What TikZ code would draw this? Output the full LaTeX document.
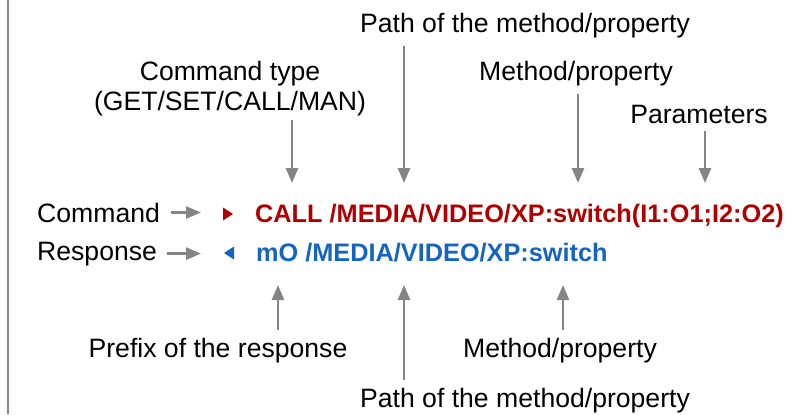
\documentclass[tikz,border=0pt]{standalone}
\usepackage{fontspec}
\setmainfont{Liberation Sans}
\usepackage{xcolor}
\usepackage{tikz}
\usetikzlibrary{arrows.meta,positioning}
\definecolor{cmdred}{HTML}{B00000}
\definecolor{respblue}{HTML}{1565C0}
\definecolor{ptrgray}{HTML}{858585}

\begin{document}
\begin{tikzpicture}[
        x=1bp, y=-1bp,
        every node/.style={font=\fontsize{26.6bp}{26.6bp}\selectfont},
        lbl/.style={anchor=base, inner sep=8bp, align=center},
        rowlbl/.style={anchor=base west, inner sep=0pt},
        ptr/.style={draw=ptrgray, line width=2.6bp, -{Triangle[width=12bp,length=15bp]}},
        cmdtxt/.style={anchor=base west, inner sep=0pt, text=cmdred,
                font=\fontsize{25.3bp}{25.3bp}\selectfont\bfseries},
        resptxt/.style={cmdtxt, text=respblue},
        edge/.style={draw=ptrgray, line width=2bp}
    ]
    \useasboundingbox (0,0) rectangle (810,414);
    \draw[edge] (8,0) -- (8,414);

    % ================= the two lines =========================
    \node[rowlbl] (cmdlbl) at (37,222) {Command};
    \node[rowlbl] (resplbl) at (37,260) {Response};
    \node[cmdtxt] (cmdline) at (255,222) {CALL /MEDIA/VIDEO/XP:switch(I1:O1;I2:O2)};
    \node[resptxt] (respline) at (256,261) {mO /MEDIA/VIDEO/XP:switch};

    \coordinate (cmdmark) at (223,214);
    \coordinate (respmark) at (234,253);
    \fill[cmdred] (cmdmark) -- ++(0,-6.5) -- ++(10,6.5) -- ++(-10,6.5) -- cycle;
    \fill[respblue] (respmark) -- ++(0,-6.5) -- ++(-10,6.5) -- ++(10,6.5) -- cycle;

    \coordinate (rowtip) at (201,0);
    \draw[ptr] ([xshift=11bp]cmdlbl.east) -- (cmdlbl.east -| rowtip);
    \draw[ptr] ([xshift=10bp]resplbl.east) -- (resplbl.east -| rowtip);

    % ================= labels above =========================
    \node[lbl] (pathtop) at (525,32) {Path of the method/property};
    \node[lbl, inner sep=4bp] (typelbl) at (230,110) {Command type\\[3bp](GET/SET/CALL/MAN)};
    \node[lbl] (methtop) at (576,80) {Method/property};
    \node[lbl] (paramlbl) at (699,123) {Parameters};

    \coordinate (pathtip) at (404,183);
    \coordinate (typetip) at (292,183);
    \coordinate (methtip) at (578,183);
    \coordinate (paramtip) at (705,183);
    \draw[ptr] (pathtop.south -| pathtip) -- (pathtip);
    \draw[ptr] (typelbl.south -| typetip) -- (typetip);
    \draw[ptr] (methtop.south -| methtip) -- (methtip);
    \draw[ptr] (paramlbl.south -| paramtip) -- (paramtip);

    % ================= labels below =========================
    \node[lbl] (prefixlbl) at (218,357) {Prefix of the response};
    \node[lbl] (methbot) at (560,357) {Method/property};
    \node[lbl] (pathbot) at (525,407) {Path of the method/property};

    \coordinate (prefixtip) at (278,285);
    \coordinate (pathbtip) at (404,285);
    \coordinate (methbtip) at (563,285);
    \draw[ptr] (prefixlbl.north -| prefixtip) -- (prefixtip);
    \draw[ptr] (pathbot.north -| pathbtip) -- (pathbtip);
    \draw[ptr] (methbot.north -| methbtip) -- (methbtip);
\end{tikzpicture}
\end{document}
